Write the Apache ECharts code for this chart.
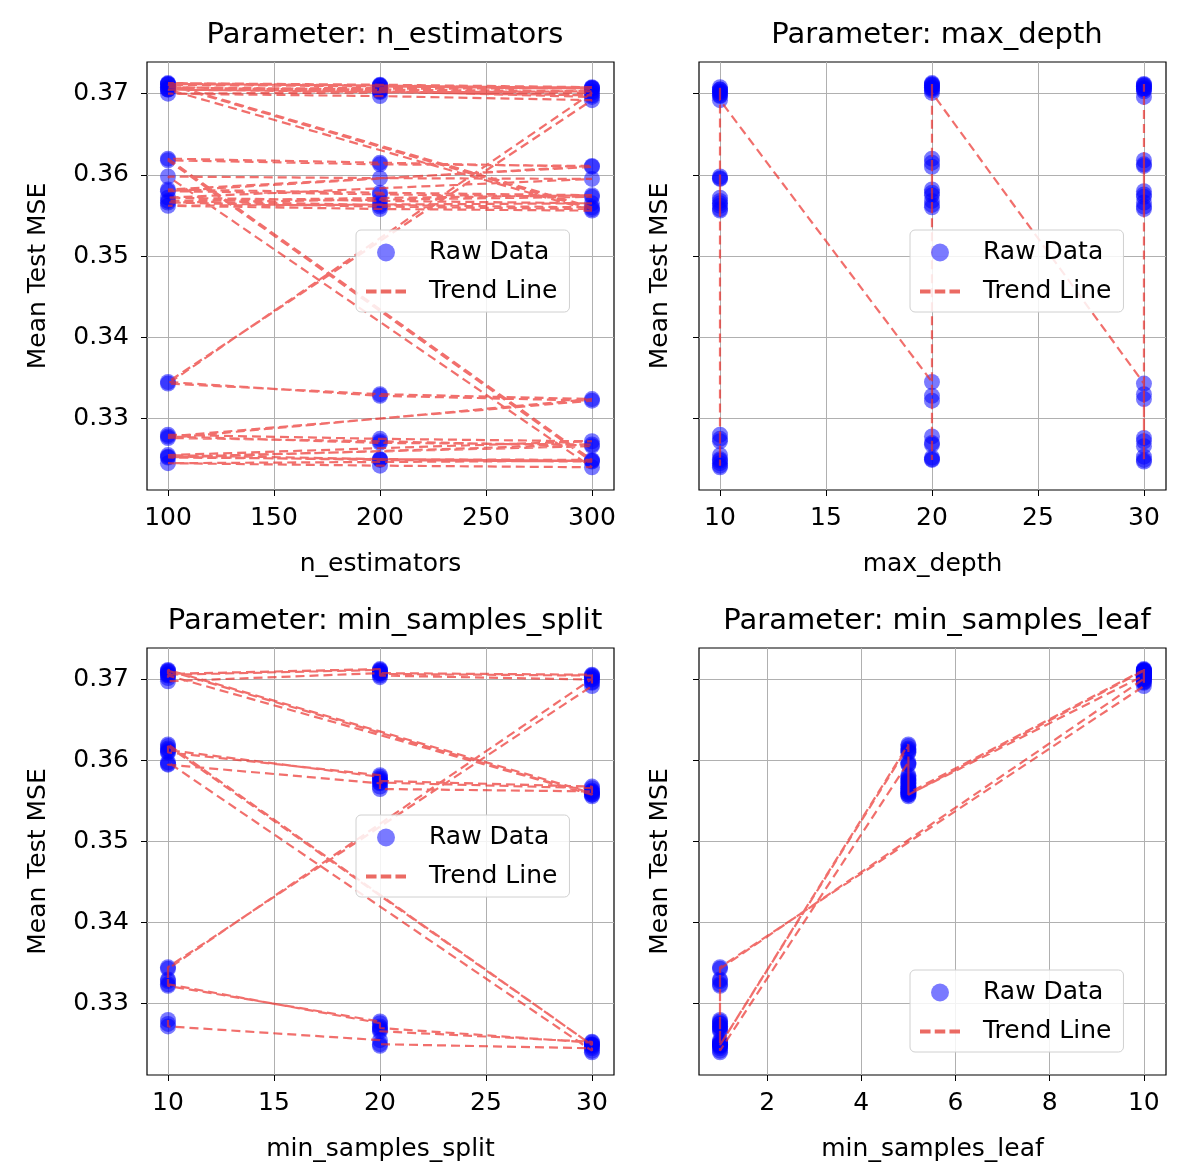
<!DOCTYPE html>
<html>
<head>
<meta charset="utf-8">
<script src="https://cdn.jsdelivr.net/npm/echarts@6/dist/echarts.min.js"></script>
<style>
  html, body { margin: 0; padding: 0; background: #fff; }
  #chart { width: 1202px; height: 1174px; }
</style>
</head>
<body>
<div id="chart"></div>
<script>
// grid search order: max_depth, min_samples_leaf, min_samples_split, n_estimators (fastest)
const nEstimators = [100, 200, 300];
const maxDepth = [10, 20, 30];
const minSamplesLeaf = [1, 5, 10];
const minSamplesSplit = [10, 20, 30];

// mean test MSE, one triple (n_estimators 100/200/300) per (depth, leaf, split)
const mseDepth10 = [
  0.3280, 0.3275, 0.3272,  0.3255, 0.3250, 0.3248,  0.3245, 0.3242, 0.3240,
  0.3598, 0.3596, 0.3595,  0.3572, 0.3568, 0.3565,  0.3562, 0.3558, 0.3556,
  0.3705, 0.3702, 0.3698,  0.3708, 0.3705, 0.3703,  0.3700, 0.3697, 0.3692
];
const mseDepth20 = [
  0.3345, 0.3328, 0.3322,  0.3278, 0.3270, 0.3268,  0.3252, 0.3250, 0.3249,
  0.3620, 0.3615, 0.3610,  0.3582, 0.3578, 0.3575,  0.3568, 0.3563, 0.3560,
  0.3712, 0.3710, 0.3707,  0.3713, 0.3711, 0.3708,  0.3706, 0.3704, 0.3701
];
const mseDepth30 = [
  0.3343, 0.3330, 0.3324,  0.3276, 0.3272, 0.3266,  0.3253, 0.3249, 0.3247,
  0.3618, 0.3613, 0.3611,  0.3580, 0.3576, 0.3573,  0.3566, 0.3561, 0.3558,
  0.3711, 0.3709, 0.3706,  0.3712, 0.3710, 0.3707,  0.3705, 0.3703, 0.3696
];

const yTicks = [0.33, 0.34, 0.35, 0.36, 0.37];
const nEstTicks = [100, 150, 200, 250, 300];
const depthTicks = [10, 15, 20, 25, 30];
const splitTicks = [10, 15, 20, 25, 30];
const leafTicks = [2, 4, 6, 8, 10];

// build rows in grid order
const rows = [];
[mseDepth10, mseDepth20, mseDepth30].forEach(function (arr, di) {
  let k = 0;
  minSamplesLeaf.forEach(function (leaf) {
    minSamplesSplit.forEach(function (split) {
      nEstimators.forEach(function (ne) {
        rows.push({ depth: maxDepth[di], leaf: leaf, split: split, ne: ne, mse: arr[k++] });
      });
    });
  });
});

const font = 'DejaVu Sans';
const panels = [
  { key: 'ne', title: 'Parameter: n_estimators', name: 'n_estimators', min: 90.1, max: 310.4, ticks: nEstTicks,
    left: 147, top: 62, height: 428, labels: true, legend: { left: 356, top: 230 } },
  { key: 'depth', title: 'Parameter: max_depth', name: 'max_depth', min: 9.01, max: 31.04, ticks: depthTicks,
    left: 699, top: 62, height: 428, labels: false, legend: { left: 910, top: 230 } },
  { key: 'split', title: 'Parameter: min_samples_split', name: 'min_samples_split', min: 9.01, max: 31.04, ticks: splitTicks,
    left: 147, top: 648, height: 427, labels: true, legend: { left: 356, top: 815 } },
  { key: 'leaf', title: 'Parameter: min_samples_leaf', name: 'min_samples_leaf', min: 0.554, max: 10.47, ticks: leafTicks,
    left: 699, top: 648, height: 427, labels: false, legend: { left: 910, top: 970 } }
];

const option = { animation: false, backgroundColor: '#fff', title: [], grid: [], xAxis: [], yAxis: [], legend: [], series: [] };
const gridLine = { show: true, lineStyle: { color: '#b0b0b0', width: 1 } };
const dashIcon = 'path://M0,0h10v4h-10zM14,0h10v4h-10zM28,0h10v4h-10z';

panels.forEach(function (p, i) {
  option.title.push({
    text: p.title, left: p.left + 233, top: p.top - 46, textAlign: 'center',
    textStyle: { fontFamily: font, fontSize: 29, fontWeight: 'normal', color: '#000' }
  });
  option.grid.push({ left: p.left, top: p.top, width: 467, height: p.height, show: true, borderColor: '#000', borderWidth: 1.2 });
  option.xAxis.push({
    type: 'value', gridIndex: i, min: p.min, max: p.max,
    name: p.name, nameLocation: 'middle', nameGap: 62,
    nameTextStyle: { fontFamily: font, fontSize: 25, color: '#000' },
    axisLine: { show: false },
    axisTick: { show: true, inside: false, length: 6, customValues: p.ticks, lineStyle: { color: '#000' } },
    axisLabel: { customValues: p.ticks, fontFamily: font, fontSize: 25, color: '#000', margin: 16 },
    splitLine: gridLine
  });
  option.yAxis.push({
    type: 'value', gridIndex: i, min: 0.3212, max: 0.3739,
    name: 'Mean Test MSE', nameLocation: 'middle', nameGap: p.labels ? 96 : 26,
    nameTextStyle: { fontFamily: font, fontSize: 25, color: '#000' },
    axisLine: { show: false },
    axisTick: { show: true, inside: false, length: 6, customValues: yTicks, lineStyle: { color: '#000' } },
    axisLabel: { show: p.labels, customValues: yTicks, fontFamily: font, fontSize: 25, color: '#000', margin: 18,
      formatter: function (v) { return v.toFixed(2); } },
    splitLine: gridLine
  });
  option.legend.push({
    left: p.legend.left, top: p.legend.top, orient: 'vertical',
    padding: [10, 12, 8, 10], itemGap: 14, itemWidth: 40, itemHeight: 18,
    backgroundColor: 'rgba(255,255,255,0.85)', borderColor: '#d0d0d0', borderWidth: 1, borderRadius: 5,
    textStyle: { fontFamily: font, fontSize: 25, color: '#000', padding: [0, 0, 0, 18] },
    data: [
      { name: 'Raw Data', icon: 'circle', itemStyle: { color: 'rgba(0,0,255,0.65)' } },
      { name: 'Trend Line', icon: dashIcon, itemStyle: { color: 'rgba(232,80,72,0.85)' } }
    ]
  });
  const pts = rows.map(function (r) { return [r[p.key], r.mse]; });
  option.series.push({
    name: 'Raw Data', type: 'scatter', xAxisIndex: i, yAxisIndex: i, data: pts,
    symbolSize: 16, itemStyle: { color: 'rgba(0,0,255,0.65)' }, z: 2
  });
  option.series.push({
    name: 'Trend Line', type: 'line', xAxisIndex: i, yAxisIndex: i, data: pts,
    showSymbol: false, symbol: 'none', z: 3,
    lineStyle: { color: 'rgb(235,50,45)', opacity: 0.7, width: 2.2, type: [9, 5] },
    itemStyle: { color: 'rgb(235,50,45)' }
  });
});

const chart = echarts.init(document.getElementById('chart'));
chart.setOption(option);
</script>
</body>
</html>
